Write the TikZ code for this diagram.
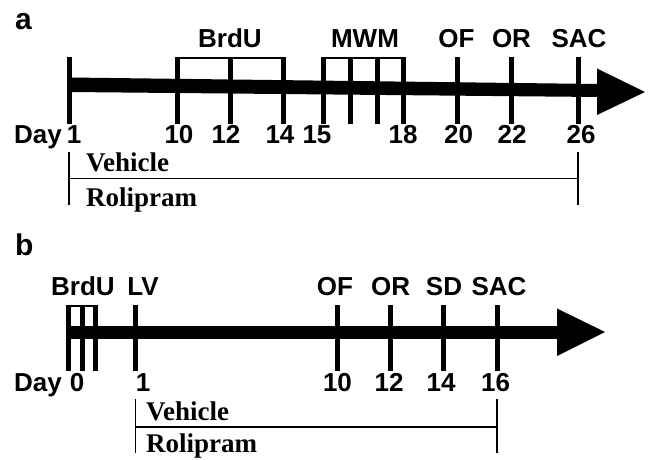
\documentclass[tikz,border=0pt]{standalone}
\usepackage{fontspec}
\setmainfont{Liberation Serif}
\setsansfont{Liberation Sans}
\begin{document}
\begin{tikzpicture}[x=1pt,y=-1pt,
  lab/.style={font=\sffamily\bfseries\fontsize{26}{28}\selectfont, inner sep=0pt, anchor=base},
  panel/.style={font=\sffamily\bfseries\fontsize{30}{32}\selectfont, inner sep=0pt, anchor=base west},
  trt/.style={font=\rmfamily\bfseries\fontsize{27}{29}\selectfont, inner sep=0pt, anchor=base west},
  tickline/.style={line width=5pt},
  brk/.style={line width=2.5pt},
  thinline/.style={line width=1.3pt}]
\useasboundingbox (0,0) rectangle (648,460);
% ---------- panel a ----------
\node[panel] (pa) at (15,30) {a};
\fill (69,77.5) -- (598,84) -- (598,97) -- (69,92) -- cycle;
\fill (597,68.5) -- (645,92) -- (597,115) -- cycle;
\foreach \x in {69,177,230,283,323,350,377,403,457,511,578}
  \draw[tickline] (\x,57) -- (\x,124);
\draw[brk] (177,58.2) -- (283,58.2);
\draw[brk] (323,58.2) -- (403,58.2);
\node[lab] (abrdu) at (230,48) {BrdU};
\node[lab] (amwm) at (365,48) {MWM};
\node[lab] (aof) at (456.5,48) {OF};
\node[lab] (aor) at (511.5,48) {OR};
\node[lab] (asac) at (579,48) {SAC};
\node[lab,anchor=base west] (aday) at (14,143) {Day};
\foreach \x/\t/\n in {74/1/a1,179/10/a10,226/12/a12,280/14/a14,317/15/a15,403/18/a18,458.5/20/a20,512/22/a22,581/26/a26}
  \node[lab] (\n) at (\x,143) {\t};
\draw[thinline] (69,152) -- (69,205);
\draw[thinline] (578,152) -- (578,205);
\draw[thinline] (69,178.5) -- (578,178.5);
\node[trt] (aveh) at (86,171.5) {Vehicle};
\node[trt] (arol) at (86,206.5) {Rolipram};
% ---------- panel b ----------
\node[panel] (pb) at (15,255) {b};
\fill (68,325.5) rectangle (558,338.5);
\fill (557,308.5) -- (605,332) -- (557,356) -- cycle;
\foreach \x in {68,82,95,135.5,337,390,443,497}
  \draw[tickline] (\x,305) -- (\x,371);
\draw[brk] (68,306.2) -- (95,306.2);
\node[lab] (bbrdu) at (83,295) {BrdU};
\node[lab] (blv) at (143,295) {LV};
\node[lab] (bof) at (335,295) {OF};
\node[lab] (bor) at (390.7,295) {OR};
\node[lab] (bsd) at (444,295) {SD};
\node[lab] (bsac) at (499,295) {SAC};
\node[lab,anchor=base west] (bday) at (14,391.5) {Day};
\foreach \x/\t/\n in {77/0/b0,143/1/b1,337.5/10/b10,389/12/b12,441/14/b14,495.7/16/b16}
  \node[lab] (\n) at (\x,391.5) {\t};
\draw[thinline] (135.5,399) -- (135.5,453);
\draw[thinline] (497,399) -- (497,453);
\draw[thinline] (135.5,427) -- (497,427);
\node[trt] (bveh) at (146,420) {Vehicle};
\node[trt] (brol) at (146,452) {Rolipram};
\end{tikzpicture}
\end{document}
